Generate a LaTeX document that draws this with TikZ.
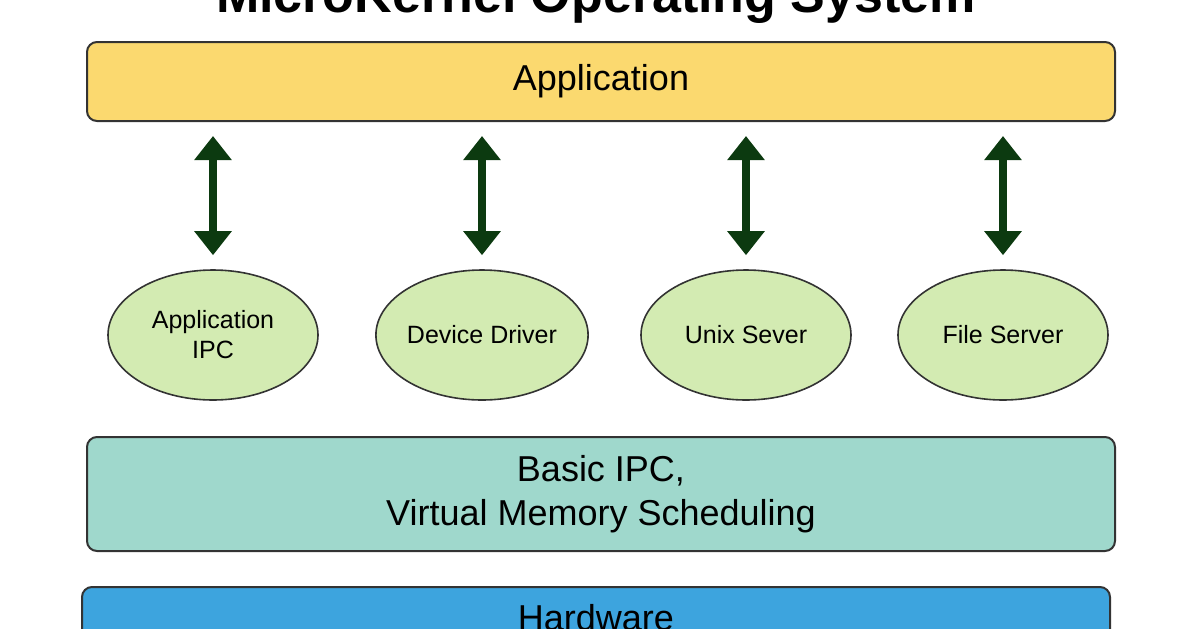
\documentclass[tikz,border=0pt]{standalone}
\usepackage{fontspec}
\setmainfont{Liberation Sans}
\usetikzlibrary{arrows.meta,shapes.geometric}
\definecolor{appyellow}{HTML}{FBD96F}
\definecolor{servgreen}{HTML}{D3EBB2}
\definecolor{kernteal}{HTML}{9FD8CC}
\definecolor{hwblue}{HTML}{3DA4DE}
\definecolor{arrowgreen}{HTML}{0C3A10}
\tikzset{layer/.style={draw=black!80,line width=1pt,rounded corners=5pt,inner sep=0pt,
    minimum width=514pt},
  server/.style={ellipse,draw=black!80,line width=0.8pt,fill=servgreen,minimum width=105pt,
    minimum height=65pt,inner sep=0pt,align=center,font=\fontsize{12.5}{15}\selectfont},
  link/.style={arrowgreen,line width=4pt,{Triangle[width=18pt,length=12pt]}-{Triangle[width=18pt,length=12pt]},
    shorten <=7pt,shorten >=7pt}}
\begin{document}
\begin{tikzpicture}[x=0.5pt,y=-0.5pt]
\useasboundingbox (0,0) rectangle (1196,628);
\node[font=\bfseries\fontsize{26}{30}\selectfont,anchor=base] (title) at (596,12) {MicroKernel Operating System};

\node[layer,fill=appyellow,minimum height=39.5pt,font=\fontsize{18}{20}\selectfont] (app) at (601,81.5) {Application};

\node[server] (ipc) at (213,335) {Application\\IPC};
\node[server] (drv) at (482,335) {Device Driver};
\node[server] (unix) at (746,335) {Unix Sever};
\node[server] (file) at (1003,335) {File Server};

\foreach \s in {ipc,drv,unix,file}
{
\draw[link] (app.south -| \s) -- (\s.north);
}

\node[layer,fill=kernteal,minimum height=57pt,align=center,font=\fontsize{18}{22}\selectfont] (kern) at (601,494) {Basic IPC,\\Virtual Memory Scheduling};

\node[layer,fill=hwblue,minimum height=40pt,anchor=north] (hw) at (596,586) {};
\node[font=\fontsize{18}{20}\selectfont,anchor=base] (hwlabel) at (596,630) {Hardware};
\end{tikzpicture}
\end{document}
